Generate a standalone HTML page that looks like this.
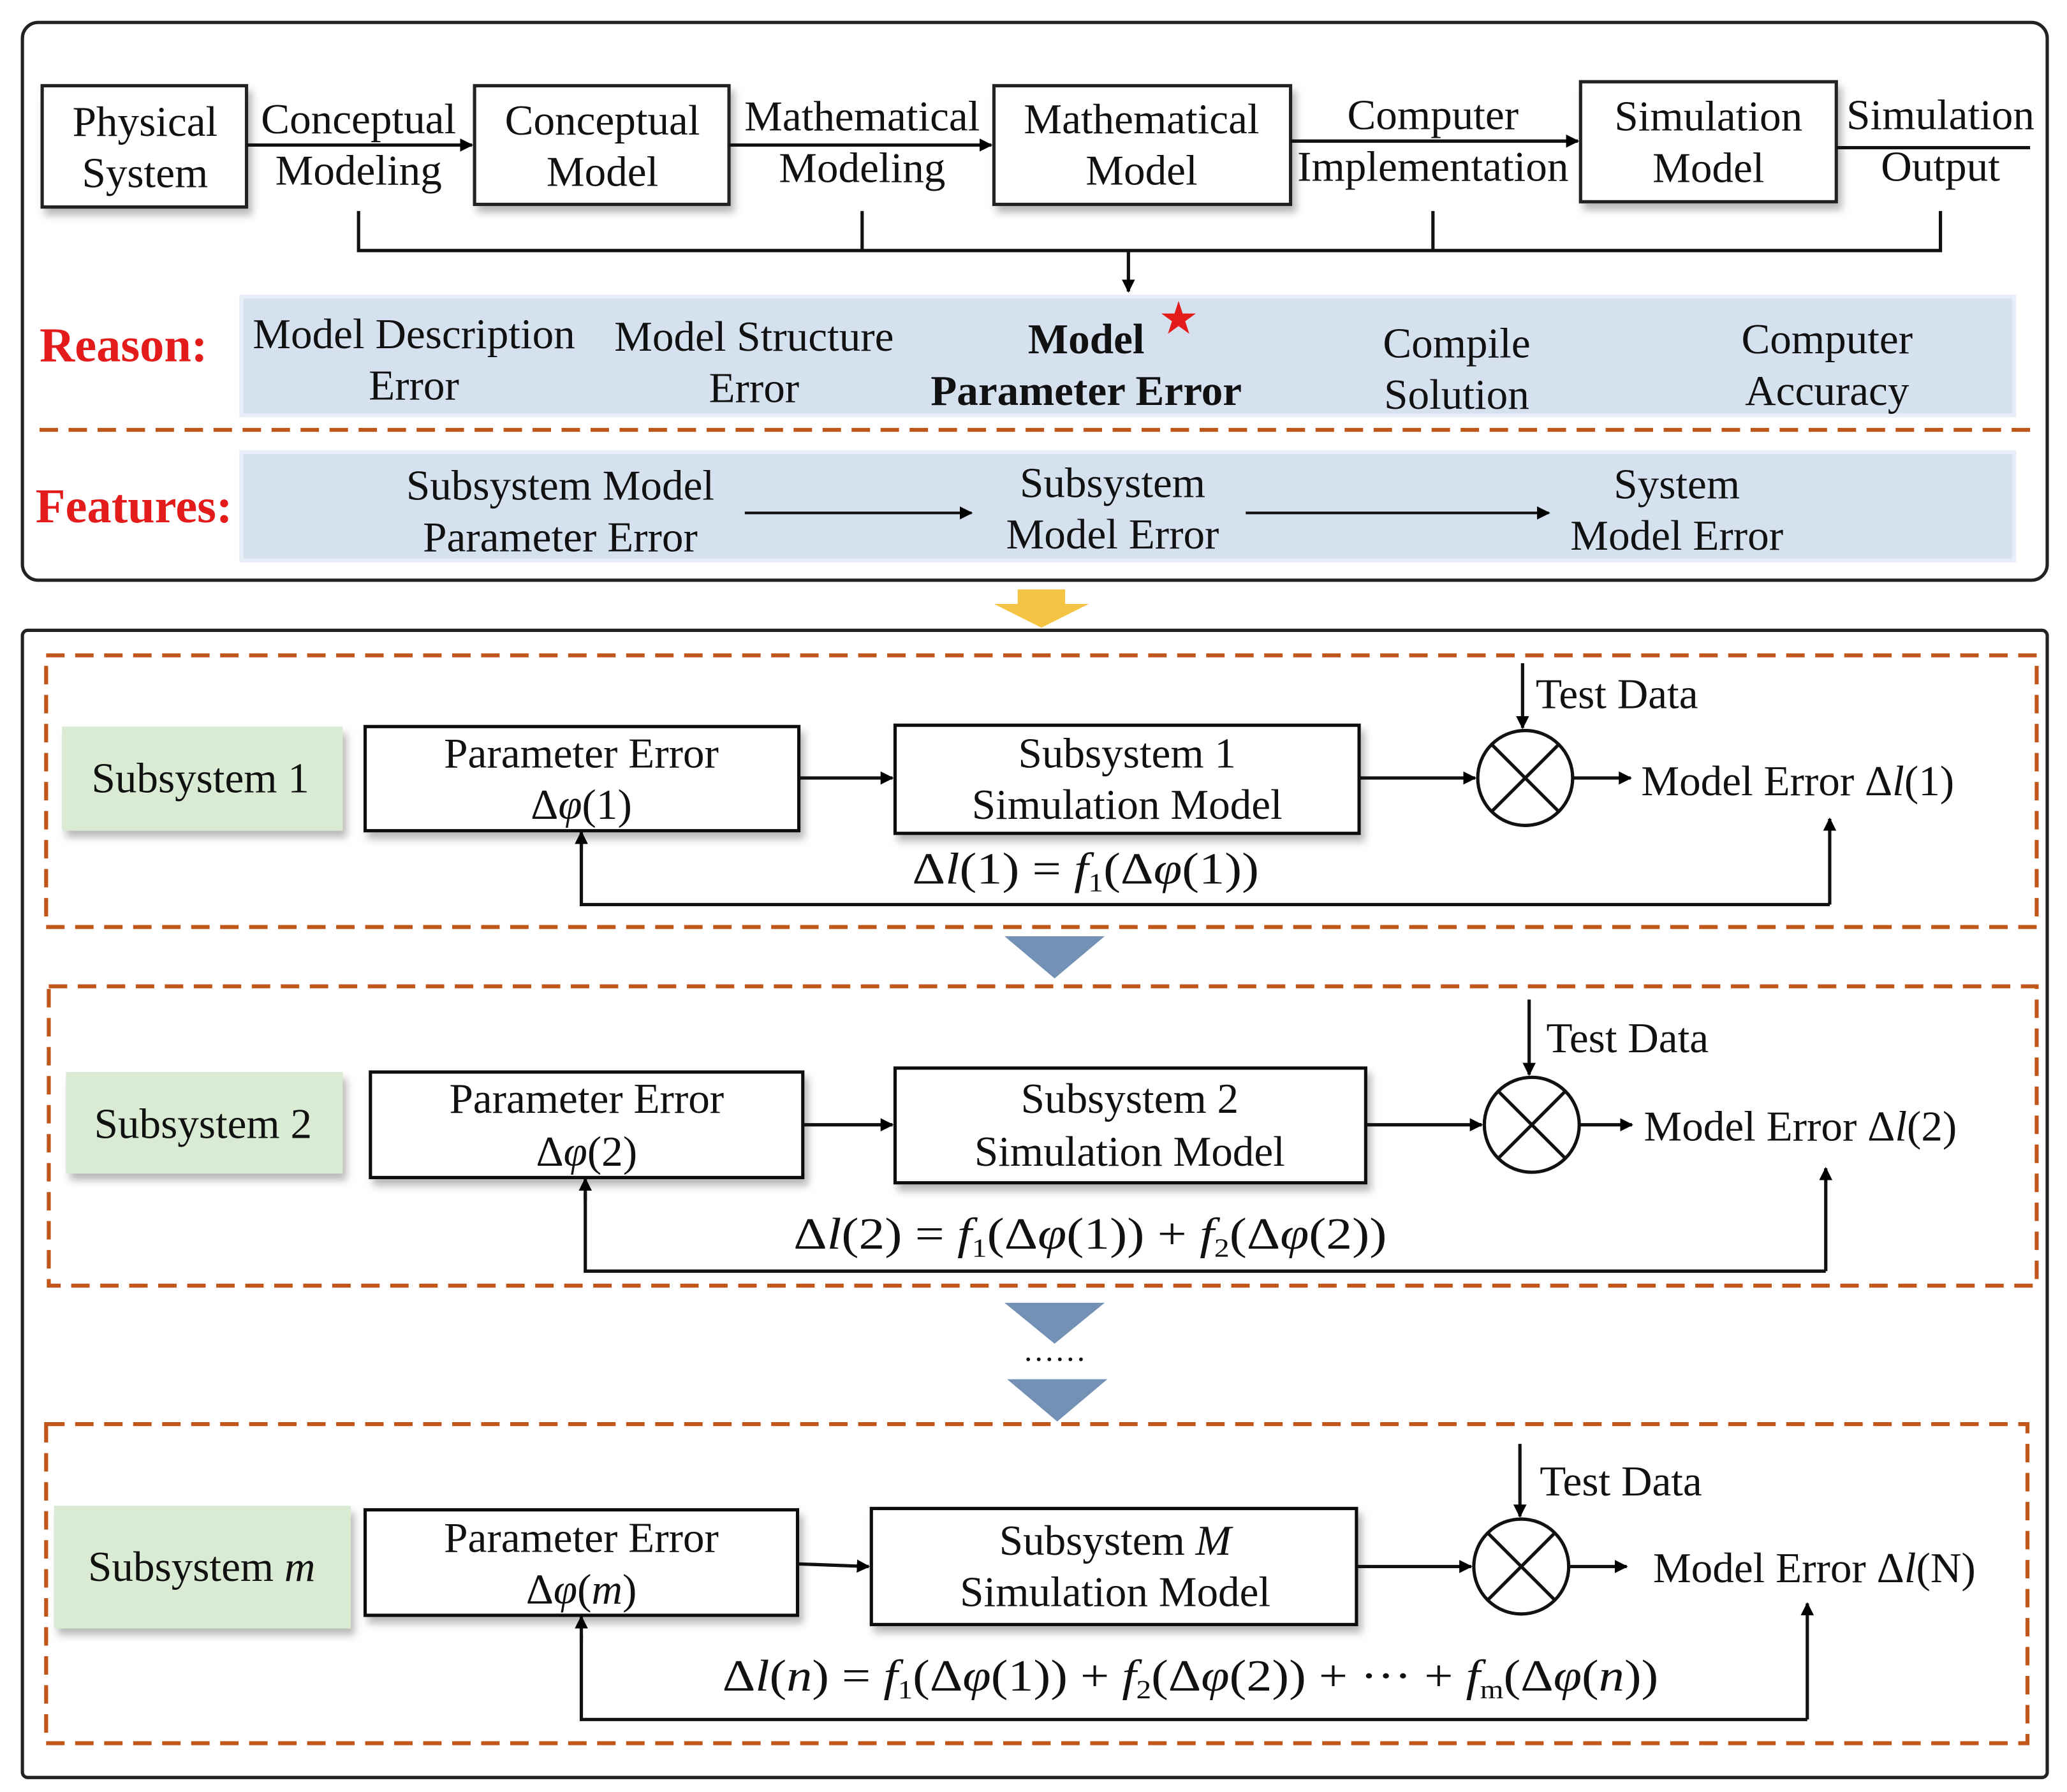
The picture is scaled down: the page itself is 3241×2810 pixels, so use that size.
<!DOCTYPE html>
<html><head><meta charset="utf-8"><style>
html,body{margin:0;padding:0;background:#fff;}
svg{display:block;}
text{font-family:"Liberation Serif",serif;font-size:32.5px;fill:#111;}
.b{font-weight:bold;}
.m{font-style:italic;}
.f{font-size:34px;}
</style></head><body>
<svg width="3241" height="2810" viewBox="0 0 1568 1359" preserveAspectRatio="none" xmlns="http://www.w3.org/2000/svg">
<defs>
<marker id="a" markerWidth="10" markerHeight="10" refX="9" refY="5" orient="auto" markerUnits="userSpaceOnUse"><path d="M0,0 L10,5 L0,10 z" fill="#000"/></marker>
<filter id="s" x="-5%" y="-5%" width="115%" height="130%"><feDropShadow dx="3" dy="5" stdDeviation="3" flood-color="#888" flood-opacity="0.6"/></filter>
</defs>
<g fill="none" stroke="#222" stroke-width="2.5">
<rect x="17" y="17" width="1536" height="423" rx="12"/>
<rect x="17" y="478" width="1536" height="870" rx="4"/>
</g>
<g fill="#fff" stroke="#222" stroke-width="2.5" filter="url(#s)">
<rect x="32" y="65" width="155" height="92"/>
<rect x="360" y="65" width="193" height="90"/>
<rect x="754" y="65" width="225" height="90"/>
<rect x="1199" y="62" width="194" height="91"/>
</g>
<g text-anchor="middle">
<text x="110" y="103">Physical</text><text x="110" y="142">System</text>
<text x="457" y="102">Conceptual</text><text x="457" y="141">Model</text>
<text x="866" y="101">Mathematical</text><text x="866" y="140">Model</text>
<text x="1296" y="99">Simulation</text><text x="1296" y="138">Model</text>
<text x="272" y="101">Conceptual</text><text x="272" y="140">Modeling</text>
<text x="654" y="99">Mathematical</text><text x="654" y="138">Modeling</text>
<text x="1087" y="98">Computer</text><text x="1087" y="137">Implementation</text>
<text x="1472" y="98">Simulation</text><text x="1472" y="137">Output</text>
</g>
<g stroke="#111" stroke-width="2.5" fill="none">
<line x1="187" y1="110" x2="358" y2="110" marker-end="url(#a)"/>
<line x1="553" y1="110" x2="752" y2="110" marker-end="url(#a)"/>
<line x1="979" y1="107" x2="1197" y2="107" marker-end="url(#a)"/>
<line x1="1393" y1="112" x2="1540" y2="112"/>
<polyline points="272,160 272,190 1472,190 1472,160"/>
<line x1="654" y1="160" x2="654" y2="190"/>
<line x1="1087" y1="160" x2="1087" y2="190"/>
<line x1="856" y1="190" x2="856" y2="221" marker-end="url(#a)"/>
</g>
<rect x="183" y="225" width="1345" height="90" fill="#d6e1f0" stroke="#e8eef8" stroke-width="3"/>
<rect x="183" y="343" width="1345" height="82" fill="#d6e1f0" stroke="#e8eef8" stroke-width="3"/>
<text x="30" y="274" class="b" style="fill:#e31b1b;font-size:37px">Reason:</text>
<text x="27" y="396" class="b" style="fill:#e31b1b;font-size:37px">Features:</text>
<g text-anchor="middle">
<text x="314" y="264">Model Description</text><text x="314" y="303">Error</text>
<text x="572" y="266">Model Structure</text><text x="572" y="305">Error</text>
<text x="824" y="268" class="b">Model</text><text x="824" y="307" class="b">Parameter Error</text>
<text x="1105" y="271">Compile</text><text x="1105" y="310">Solution</text>
<text x="1386" y="268">Computer</text><text x="1386" y="307">Accuracy</text>
<text x="425" y="379">Subsystem Model</text><text x="425" y="418">Parameter Error</text>
<text x="844" y="377">Subsystem</text><text x="844" y="416">Model Error</text>
<text x="1272" y="378">System</text><text x="1272" y="417">Model Error</text>
</g>
<text x="894" y="253" text-anchor="middle" style="fill:#e31b1b;font-size:34px">★</text>
<g stroke="#111" stroke-width="2" fill="none">
<line x1="565" y1="389" x2="737" y2="389" marker-end="url(#a)"/>
<line x1="945" y1="389" x2="1175" y2="389" marker-end="url(#a)"/>
</g>
<line x1="30" y1="326" x2="1545" y2="326" stroke="#c0561a" stroke-width="3" stroke-dasharray="14,8"/>
<path d="M772,447 L808,447 L808,458 L826,458 L790,476 L754,458 L772,458 z" fill="#f6c445"/>
<g fill="none" stroke="#c0561a" stroke-width="3" stroke-dasharray="14,8">
<rect x="35" y="497" width="1510" height="206"/>
<rect x="37" y="748" width="1508" height="227"/>
<rect x="35" y="1080" width="1503" height="242"/>
</g>
<g fill="#7391b4">
<path d="M762,710 L838,710 L800,742 z"/>
<path d="M762,988 L838,988 L800,1019 z"/>
<path d="M764,1046 L840,1046 L802,1078 z"/>
</g>
<text x="801" y="1032" text-anchor="middle" style="font-size:24px;letter-spacing:2px">......</text>
<g fill="#d9ecd3" filter="url(#s)">
<rect x="47" y="551" width="213" height="79"/>
<rect x="50" y="813" width="210" height="77"/>
<rect x="41" y="1142" width="225" height="93"/>
</g>
<g text-anchor="middle">
<text x="152" y="601">Subsystem 1</text>
<text x="154" y="863">Subsystem 2</text>
<text x="153" y="1199">Subsystem <tspan class="m">m</tspan></text>
</g>
<g fill="#fff" stroke="#111" stroke-width="2.5" filter="url(#s)">
<rect x="277" y="551" width="329" height="79"/>
<rect x="679" y="550" width="352" height="82"/>
<rect x="281" y="813" width="328" height="80"/>
<rect x="679" y="810" width="357" height="87"/>
<rect x="277" y="1145" width="328" height="80"/>
<rect x="661" y="1144" width="368" height="88"/>
</g>
<g text-anchor="middle">
<text x="441" y="582">Parameter Error</text><text x="441" y="621">Δ<tspan class="m">φ</tspan>(1)</text>
<text x="855" y="582">Subsystem 1</text><text x="855" y="621">Simulation Model</text>
<text x="445" y="844">Parameter Error</text><text x="445" y="884">Δ<tspan class="m">φ</tspan>(2)</text>
<text x="857" y="844">Subsystem 2</text><text x="857" y="884">Simulation Model</text>
<text x="441" y="1177">Parameter Error</text><text x="441" y="1216">Δ<tspan class="m">φ</tspan>(<tspan class="m">m</tspan>)</text>
<text x="846" y="1179">Subsystem <tspan class="m">M</tspan></text><text x="846" y="1218">Simulation Model</text>
</g>
<text class="f" x="692" y="670" textLength="263" lengthAdjust="spacingAndGlyphs">Δ<tspan class="m">l</tspan>(1) = <tspan class="m">f</tspan><tspan style="font-size:20px" dy="6">1</tspan><tspan dy="-6">(Δ</tspan><tspan class="m">φ</tspan>(1))</text>
<text class="f" x="602" y="947" textLength="450" lengthAdjust="spacingAndGlyphs">Δ<tspan class="m">l</tspan>(2) = <tspan class="m">f</tspan><tspan style="font-size:20px" dy="6">1</tspan><tspan dy="-6">(Δ</tspan><tspan class="m">φ</tspan>(1)) + <tspan class="m">f</tspan><tspan style="font-size:20px" dy="6">2</tspan><tspan dy="-6">(Δ</tspan><tspan class="m">φ</tspan>(2))</text>
<text class="f" x="548" y="1282" textLength="710" lengthAdjust="spacingAndGlyphs">Δ<tspan class="m">l</tspan>(<tspan class="m">n</tspan>) = <tspan class="m">f</tspan><tspan style="font-size:20px" dy="6">1</tspan><tspan dy="-6">(Δ</tspan><tspan class="m">φ</tspan>(1)) + <tspan class="m">f</tspan><tspan style="font-size:20px" dy="6">2</tspan><tspan dy="-6">(Δ</tspan><tspan class="m">φ</tspan>(2)) + ··· + <tspan class="m">f</tspan><tspan style="font-size:20px" dy="6">m</tspan><tspan dy="-6">(Δ</tspan><tspan class="m">φ</tspan>(<tspan class="m">n</tspan>))</text>
<text x="1165" y="537">Test Data</text>
<text x="1245" y="603">Model Error Δ<tspan class="m">l</tspan>(1)</text>
<text x="1173" y="798">Test Data</text>
<text x="1247" y="865">Model Error Δ<tspan class="m">l</tspan>(2)</text>
<text x="1168" y="1134">Test Data</text>
<text x="1254" y="1200">Model Error Δ<tspan class="m">l</tspan>(N)</text>
<g stroke="#111" stroke-width="2.5" fill="none">
<circle cx="1157" cy="590" r="36"/><line x1="1132" y1="565" x2="1182" y2="615"/><line x1="1182" y1="565" x2="1132" y2="615"/>
<circle cx="1162" cy="853" r="36"/><line x1="1137" y1="828" x2="1187" y2="878"/><line x1="1187" y1="828" x2="1137" y2="878"/>
<circle cx="1154" cy="1188" r="36"/><line x1="1129" y1="1163" x2="1179" y2="1213"/><line x1="1179" y1="1163" x2="1129" y2="1213"/>
<line x1="606" y1="590" x2="677" y2="590" marker-end="url(#a)"/>
<line x1="1031" y1="590" x2="1119" y2="590" marker-end="url(#a)"/>
<line x1="1193" y1="590" x2="1237" y2="590" marker-end="url(#a)"/>
<line x1="1155" y1="503" x2="1155" y2="552" marker-end="url(#a)"/>
<line x1="1388" y1="686" x2="1388" y2="621" marker-end="url(#a)"/>
<polyline points="1388,686 441,686 441,640"/><line x1="441" y1="645" x2="441" y2="631" marker-end="url(#a)"/>
<line x1="609" y1="853" x2="677" y2="853" marker-end="url(#a)"/>
<line x1="1036" y1="853" x2="1124" y2="853" marker-end="url(#a)"/>
<line x1="1198" y1="853" x2="1238" y2="853" marker-end="url(#a)"/>
<line x1="1160" y1="758" x2="1160" y2="815" marker-end="url(#a)"/>
<line x1="1385" y1="964" x2="1385" y2="886" marker-end="url(#a)"/>
<polyline points="1385,964 444,964 444,905"/><line x1="444" y1="910" x2="444" y2="894" marker-end="url(#a)"/>
<line x1="605" y1="1186" x2="659" y2="1188" marker-end="url(#a)"/>
<line x1="1029" y1="1188" x2="1116" y2="1188" marker-end="url(#a)"/>
<line x1="1190" y1="1188" x2="1234" y2="1188" marker-end="url(#a)"/>
<line x1="1153" y1="1095" x2="1153" y2="1150" marker-end="url(#a)"/>
<line x1="1371" y1="1304" x2="1371" y2="1216" marker-end="url(#a)"/>
<polyline points="1371,1304 441,1304 441,1240"/><line x1="441" y1="1245" x2="441" y2="1226" marker-end="url(#a)"/>
</g>
</svg>
</body></html>
